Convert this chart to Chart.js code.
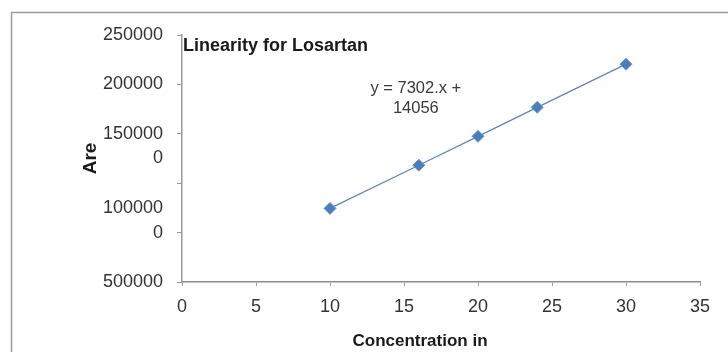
<!DOCTYPE html>
<html>
<head>
<meta charset="utf-8">
<script src="https://cdn.jsdelivr.net/npm/chart.js@4.4.1/dist/chart.umd.min.js"></script>
<style>
  html, body { margin: 0; padding: 0; background: #fff; }
  #wrap { position: relative; width: 728px; height: 352px; }
</style>
</head>
<body>
<div id="wrap"><canvas id="grafico"></canvas></div>
<script>
// Dados da curva de linearidade
const concentracoes = [10, 16, 20, 24, 30];
const areas = [745000, 1182000, 1474000, 1768000, 2205000];

// Rótulos do eixo Y como aparecem na figura (de 0 até 2500000, passo 250000)
const rotulosY = ['500000', '', '0', '100000', '', '0', '150000', '', '200000', '', '250000'];

const tituloGrafico = 'Linearity for Losartan';
const tituloX = 'Concentration in';
const tituloY = 'Are';
const equacao = ['y = 7302.x +', '14056'];

const fonte = "'Liberation Sans', Arial, sans-serif";

// Plugin para moldura, título interno, equação e título do eixo X
const textosExtras = {
  id: 'textosExtras',
  beforeDraw(chart) {
    const ctx = chart.ctx;
    ctx.save();
    ctx.strokeStyle = '#9a9a9a';
    ctx.lineWidth = 1.5;
    ctx.beginPath();
    ctx.moveTo(11.5, 352);
    ctx.lineTo(11.5, 12.5);
    ctx.lineTo(728, 12.5);
    ctx.stroke();
    ctx.restore();
  },
  afterDraw(chart) {
    const ctx = chart.ctx;
    const xs = chart.scales.x;
    const ys = chart.scales.y;
    ctx.save();
    // título dentro da área do gráfico
    ctx.fillStyle = '#1a1a1a';
    ctx.font = 'bold 18px ' + fonte;
    ctx.textAlign = 'left';
    ctx.textBaseline = 'middle';
    ctx.fillText(tituloGrafico, chart.chartArea.left + 1, chart.chartArea.top + 11);

    // equação da reta
    ctx.fillStyle = '#3a3a3a';
    ctx.font = '16.5px ' + fonte;
    ctx.textAlign = 'center';
    const ex = xs.getPixelForValue(15.8);
    const ey = ys.getPixelForValue(1862000);
    ctx.fillText(equacao[0], ex, ey - 10);
    ctx.fillText(equacao[1], ex, ey + 10);

    // título do eixo X
    ctx.fillStyle = '#1a1a1a';
    ctx.font = 'bold 17px ' + fonte;
    ctx.fillText(tituloX, 420, 341);
    ctx.restore();
  }
};

function initChart() {
  const ctx = document.getElementById('grafico').getContext('2d');

  const chart = new Chart(ctx, {
    type: 'scatter',
    data: {
      datasets: [{
        label: 'Area',
        data: concentracoes.map((c, i) => ({ x: c, y: areas[i] })),
        showLine: true,
        borderColor: '#5f87b5',
        borderWidth: 1.3,
        pointStyle: 'rectRot',
        pointRadius: 6,
        pointHoverRadius: 6,
        pointBackgroundColor: '#4a7ebb',
        pointBorderColor: '#6b98c8',
        pointBorderWidth: 1
      }]
    },
    options: {
      responsive: true,
      maintainAspectRatio: false,
      animation: false,
      layout: { padding: { left: 12, top: 35, right: 28, bottom: 0 } },
      plugins: {
        legend: { display: false },
        tooltip: { enabled: false }
      },
      scales: {
        x: {
          type: 'linear',
          min: 0,
          max: 35,
          afterFit: (s) => { s.height = 70; },
          border: { color: '#8c8c8c', width: 1.5 },
          grid: { drawOnChartArea: false, tickLength: 4, tickColor: '#9a9a9a' },
          ticks: {
            stepSize: 5,
            padding: 10,
            color: '#333',
            font: { family: fonte, size: 18 }
          }
        },
        y: {
          type: 'linear',
          min: 0,
          max: 2500000,
          afterFit: (s) => { s.width = 170; },
          border: { color: '#9a9a9a', width: 1.5 },
          grid: {
            drawOnChartArea: false,
            tickLength: 5,
            tickColor: (c) => (c.tick && c.tick.value % 500000 === 0) ? '#9a9a9a' : 'rgba(0,0,0,0)'
          },
          ticks: {
            stepSize: 250000,
            autoSkip: false,
            padding: 14,
            color: '#333',
            font: { family: fonte, size: 18 },
            callback: (v, i) => rotulosY[i]
          },
          title: {
            display: true,
            text: tituloY,
            color: '#1a1a1a',
            font: { family: fonte, size: 19, weight: 'bold' },
            padding: { top: 67, bottom: 0 }
          }
        }
      }
    },
    plugins: [textosExtras]
  });

  window.graficoLinearidade = chart;
}

document.addEventListener('DOMContentLoaded', initChart);
</script>
</body>
</html>
